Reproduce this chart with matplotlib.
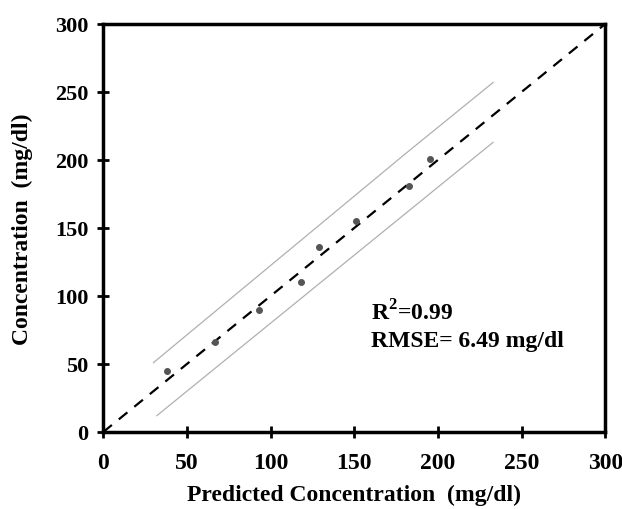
import numpy as np
import matplotlib.pyplot as plt

plt.rcParams['font.family'] = ['Liberation Serif', 'DejaVu Serif']
plt.rcParams['font.weight'] = 'bold'
plt.rcParams['mathtext.fontset'] = 'custom'
plt.rcParams['mathtext.rm'] = 'Liberation Serif:bold'
plt.rcParams['mathtext.bf'] = 'Liberation Serif:bold'

# measured vs predicted (mg/dl)
pred = [38, 67, 93, 118, 129, 151, 183, 195]
meas = [45, 66, 90, 110, 136, 155, 181, 201]

# prediction band limits
band_x = [30, 80, 130, 180, 233]
band_up = [51, 102, 153, 204, 257]
band_lo_x = [32, 80, 130, 180, 233]
band_lo = [12, 60, 110, 160, 213]

fig = plt.figure(figsize=(6.22, 5.10), dpi=100)
ax = fig.add_axes([0.166, 0.151, 0.807, 0.8])

ax.plot([0, 300], [0, 300], 'k--', linewidth=1.6, dashes=(5, 4))
ax.plot(band_x, band_up, color='#b0b0b0', linewidth=0.9)
ax.plot(band_lo_x, band_lo, color='#b0b0b0', linewidth=0.9)
ax.plot(pred, meas, 'o', color='#555555', markersize=4)

ax.text(160, 88, 'R$^\\mathregular{2}$=0.99', fontsize=17, fontweight='bold', va='center')
ax.text(160, 67, 'RMSE= 6.49 mg/dl', fontsize=17, fontweight='bold', va='center')

ax.set_xlim(0, 300)
ax.set_ylim(0, 300)
ax.set_xticks(np.arange(0, 301, 50))
ax.set_yticks(np.arange(0, 301, 50))
ax.tick_params(direction='inout', length=9, width=2)
ax.tick_params(axis='x', labelsize=17, pad=10)
ax.tick_params(axis='y', labelsize=16, pad=6)
for lab in ax.get_xticklabels() + ax.get_yticklabels():
    lab.set_fontweight('bold')
for s in ax.spines.values():
    s.set_linewidth(2.5)

ax.set_xlabel('Predicted Concentration  (mg/dl)', fontsize=17, fontweight='bold', labelpad=8)
ax.set_ylabel('Concentration  (mg/dl)', fontsize=17, fontweight='bold', labelpad=16)

plt.savefig('out.png', dpi=100)
